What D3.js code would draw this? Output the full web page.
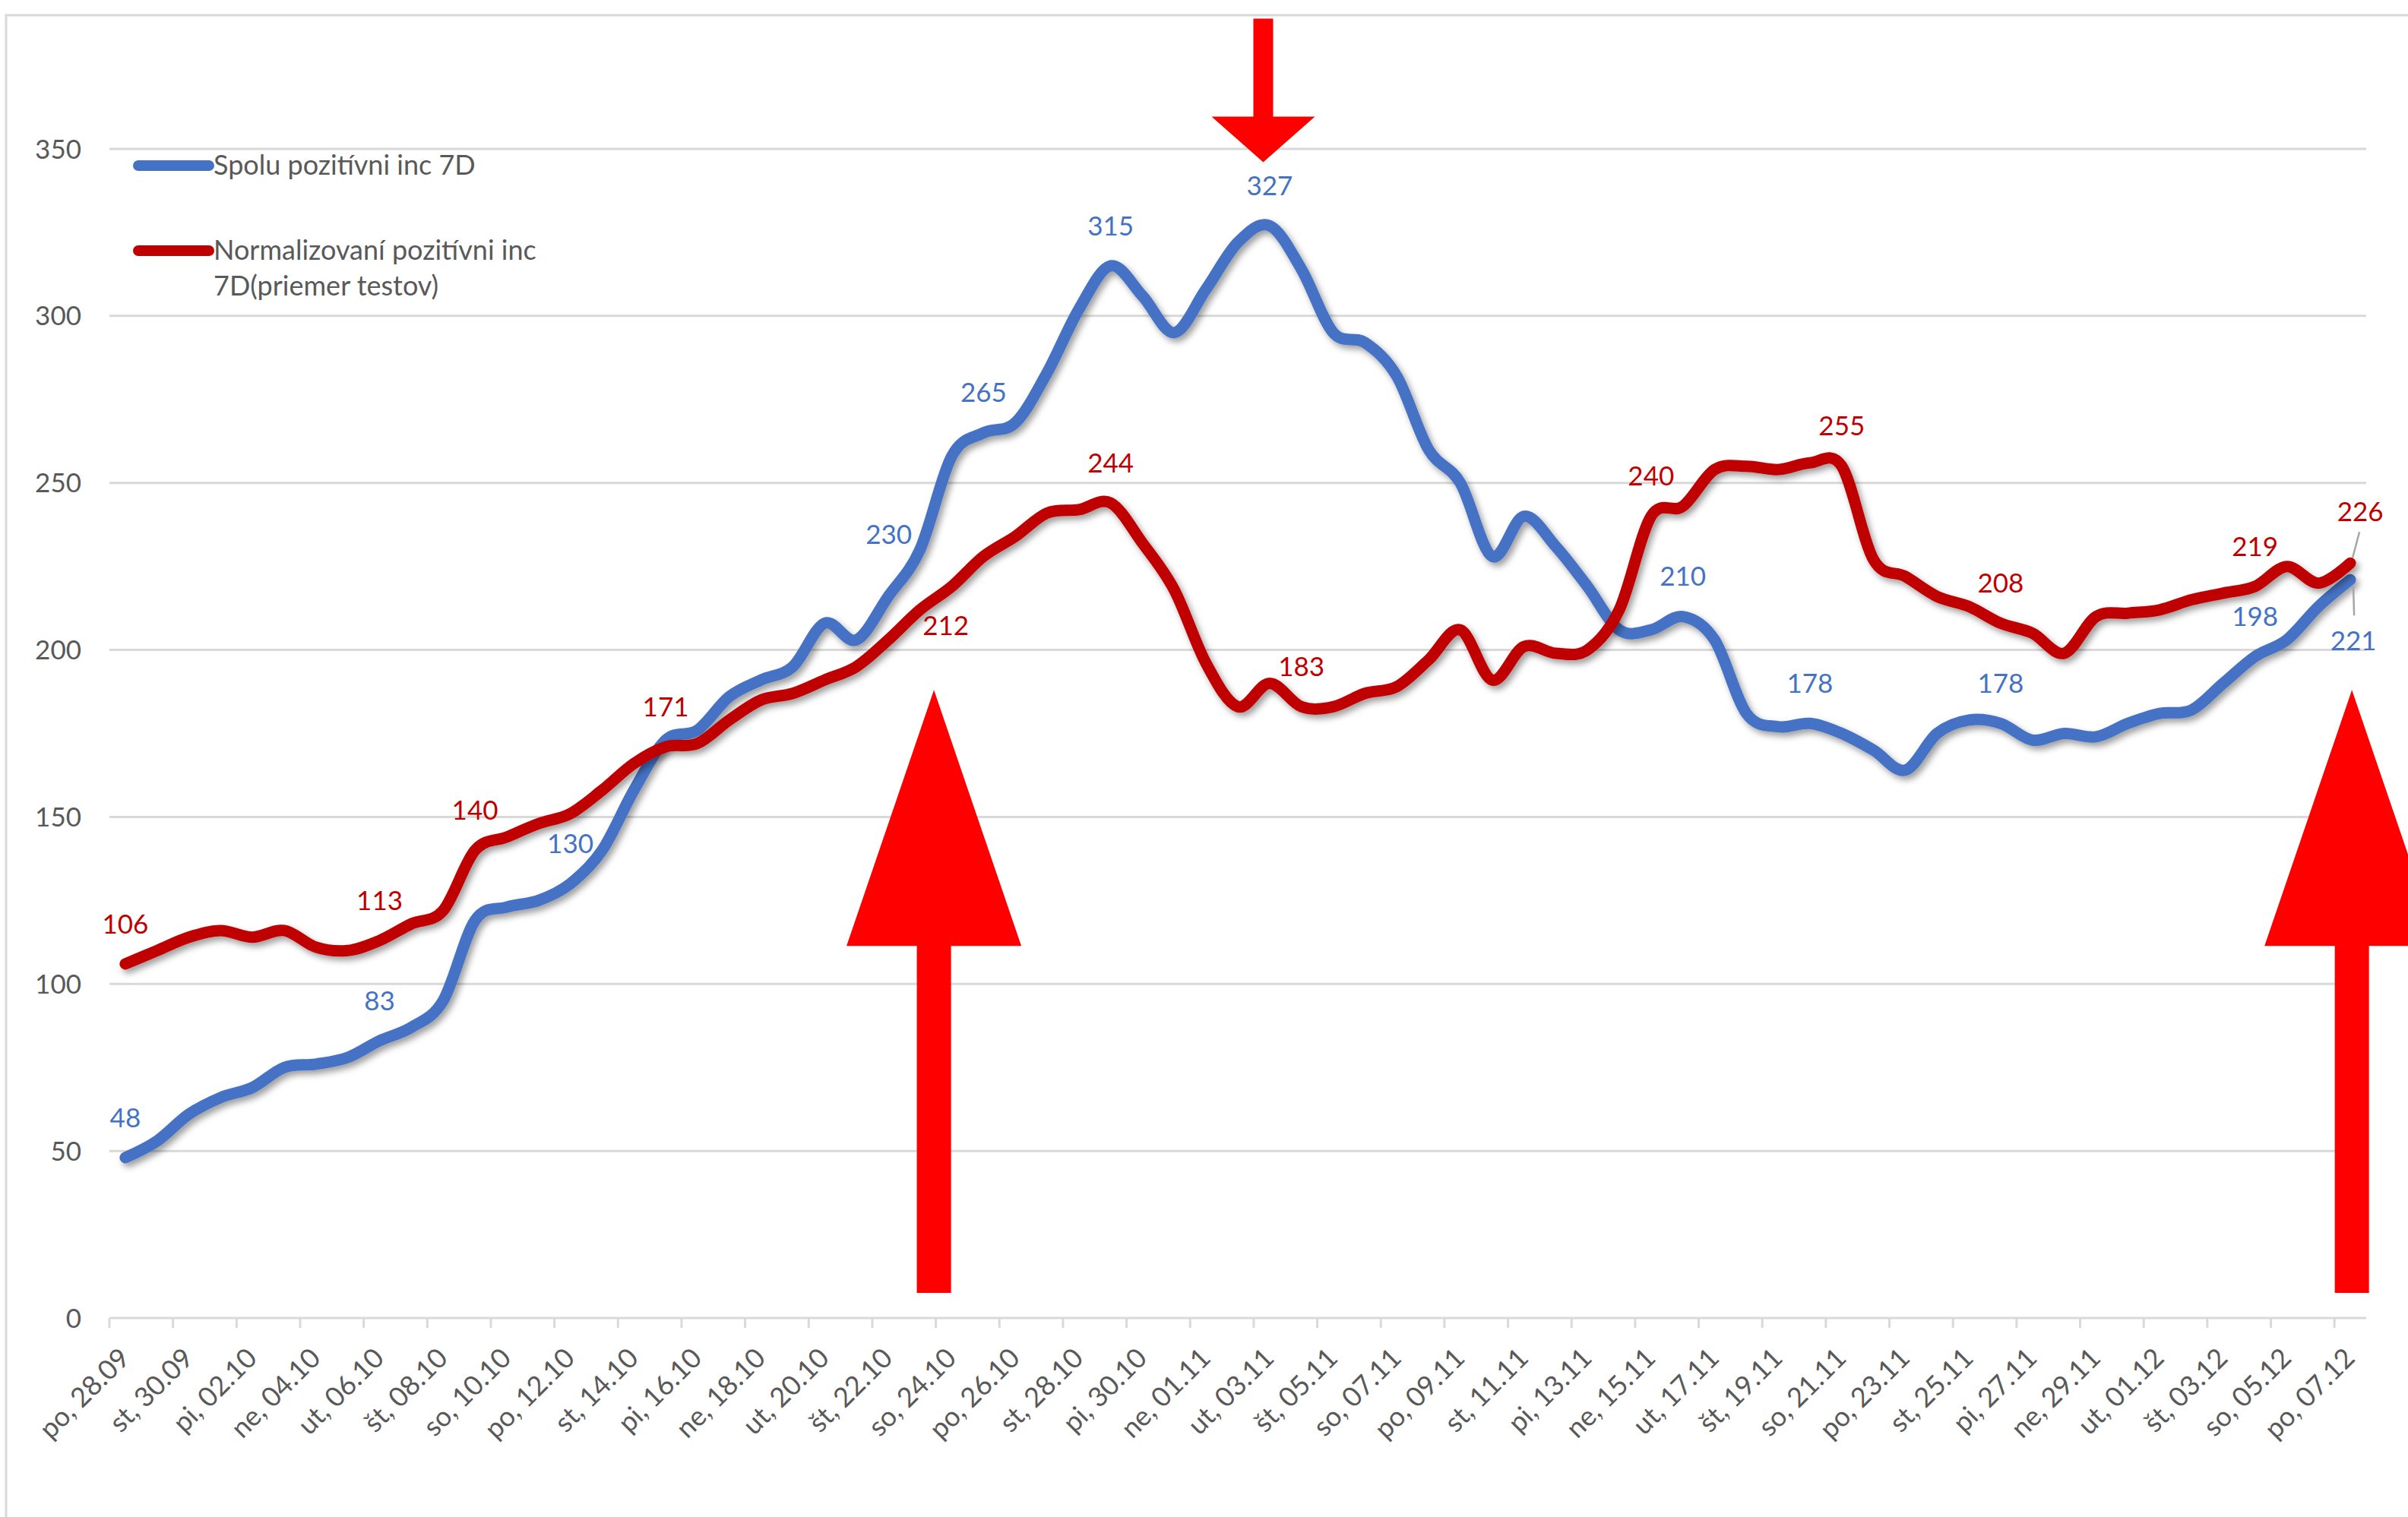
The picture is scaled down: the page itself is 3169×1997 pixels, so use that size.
<!DOCTYPE html>
<html><head><meta charset="utf-8">
<script src="https://cdn.jsdelivr.net/npm/d3@7"></script>
<style>html,body{margin:0;padding:0;background:#fff;}svg{display:block;}</style>
</head><body>
<script>
const categories = ["po, 28.09","ut, 29.09","st, 30.09","št, 01.10","pi, 02.10","so, 03.10","ne, 04.10","po, 05.10","ut, 06.10","st, 07.10","št, 08.10","pi, 09.10","so, 10.10","ne, 11.10","po, 12.10","ut, 13.10","st, 14.10","št, 15.10","pi, 16.10","so, 17.10","ne, 18.10","po, 19.10","ut, 20.10","st, 21.10","št, 22.10","pi, 23.10","so, 24.10","ne, 25.10","po, 26.10","ut, 27.10","st, 28.10","št, 29.10","pi, 30.10","so, 31.10","ne, 01.11","po, 02.11","ut, 03.11","st, 04.11","št, 05.11","pi, 06.11","so, 07.11","ne, 08.11","po, 09.11","ut, 10.11","st, 11.11","št, 12.11","pi, 13.11","so, 14.11","ne, 15.11","po, 16.11","ut, 17.11","st, 18.11","št, 19.11","pi, 20.11","so, 21.11","ne, 22.11","po, 23.11","ut, 24.11","st, 25.11","št, 26.11","pi, 27.11","so, 28.11","ne, 29.11","po, 30.11","ut, 01.12","st, 02.12","št, 03.12","pi, 04.12","so, 05.12","ne, 06.12","po, 07.12"];

const blueName = "Spolu pozitívni inc 7D";
const redName = ["Normalizovaní pozitívni inc", "7D(priemer testov)"];

const blueValues = [48,53,61,66,69,75,76,78,83,87,95,119,123,125,130,140,158,
173,176,186,191,195,208,203,
216,230,258,265,268,283,302,315,306,295,308,322,327,314,295,292,282,260,250,228,240,231,219,
206,206,210,203,181,177,178,175,170,164,175,179,178,173,175,174,178,181,182,190,198,203,213,221];

const redValues = [106,110,114,116,114,116,111,110,113,118,122,140,144,148,151,158,166,
171,172,179,185,187,191,195,
203,212,219,228,234,241,242,244,232,218,196,183,190,183,183,187,189,197,206,191,201,199,200,
212,240,243,254,255,254,256,255,227,222,216,213,208,205,199,210,211,212,215,217,219,225,220,226];

const yTicks = [0,50,100,150,200,250,300,350];

// indices of points carrying a data label
const blueLabelIdx = [0,8,14,25,27,31,36,49,53,59,67,70];
const redLabelIdx  = [0,8,11,17,25,31,37,48,54,59,67,70];

// annotation arrows: [category position, start value, tip value]
const arrowsDown = [[35.8, 389, 346]];
const arrowsUp = [[25.44, 7.5, 188], [70.05, 7.5, 188]];

// ---------------- drawing ----------------
const W = 3169, H = 1997;
const BLUE = "#4472C4", RED = "#C00000", TXT = "#595959", GRID = "#d9d9d9";
const FONT = "Lato, 'Open Sans', sans-serif";

const svg = d3.select("body").append("svg").attr("width", W).attr("height", H)
  .style("font-family", FONT);
svg.append("rect").attr("width", W).attr("height", H).attr("fill", "#fff");

const defs = svg.append("defs");
const f = defs.append("filter").attr("id","sh").attr("x","-5%").attr("y","-5%").attr("width","110%").attr("height","115%");
f.append("feDropShadow").attr("dx",4).attr("dy",5).attr("stdDeviation",4)
  .attr("flood-color","#000").attr("flood-opacity",0.38);

// chart frame
svg.append("rect").attr("x",8).attr("y",20).attr("width",3300).attr("height",2200)
  .attr("fill","none").attr("stroke",GRID).attr("stroke-width",3);

const x = d3.scaleBand().domain(categories).range([144, 3114]).padding(0);
const cx = i => x(categories[i]) + x.bandwidth()/2;
const xPos = p => x.range()[0] + (p + 0.5) * x.step();
const y = d3.scaleLinear().domain([0, 350]).range([1735, 196]);

// gridlines
svg.append("g").selectAll("line").data(yTicks.filter(d => d > 0)).join("line")
  .attr("x1", 144).attr("x2", 3114)
  .attr("y1", d => y(d)).attr("y2", d => y(d))
  .attr("stroke", GRID).attr("stroke-width", 3);

// y labels
svg.append("g").selectAll("text").data(yTicks).join("text")
  .attr("x", 107).attr("y", d => y(d)).attr("dy", "0.36em")
  .attr("text-anchor", "end").attr("fill", TXT).attr("font-size", 35)
  .text(d => d);

// x axis
svg.append("line").attr("x1",144).attr("x2",3114).attr("y1",y(0)).attr("y2",y(0))
  .attr("stroke",GRID).attr("stroke-width",3);
const tickIdx = d3.range(0, categories.length, 2);
svg.append("g").selectAll("line").data(tickIdx).join("line")
  .attr("x1", i => x(categories[i])).attr("x2", i => x(categories[i]))
  .attr("y1", y(0)).attr("y2", y(0) + 13)
  .attr("stroke", GRID).attr("stroke-width", 3);
svg.append("g").selectAll("text").data(tickIdx).join("text")
  .attr("transform", i => `translate(${cx(i) + 8},${y(0) + 55}) rotate(-45)`)
  .attr("text-anchor", "end").attr("fill", TXT).attr("font-size", 36)
  .text(i => categories[i]);

// lines
const line = d3.line().x((d,i) => cx(i)).y(d => y(d)).curve(d3.curveCardinal.tension(0));
svg.append("path").datum(blueValues).attr("d", line).attr("fill","none")
  .attr("stroke",BLUE).attr("stroke-width",15).attr("stroke-linecap","round")
  .attr("stroke-linejoin","round").attr("filter","url(#sh)");
svg.append("path").datum(redValues).attr("d", line).attr("fill","none")
  .attr("stroke",RED).attr("stroke-width",15).attr("stroke-linecap","round")
  .attr("stroke-linejoin","round").attr("filter","url(#sh)");

// data labels
const blueOff = {25: [-41, -20], 70: [4, 80]};
const redOff  = {25: [34, 21], 70: [13, -68]};
function labels(idx, vals, color, off) {
  svg.append("g").selectAll("text").data(idx).join("text")
    .attr("x", i => cx(i) + (off[i] ? off[i][0] : 0))
    .attr("y", i => y(vals[i]) + (off[i] ? off[i][1] : -53))
    .attr("dy", "0.36em").attr("text-anchor", "middle")
    .attr("fill", color).attr("font-size", 35)
    .text(i => vals[i]);
}
labels(blueLabelIdx, blueValues, BLUE, blueOff);
labels(redLabelIdx, redValues, RED, redOff);

// leader lines for last points
const last = categories.length - 1;
svg.append("line").attr("x1", cx(last) + 12).attr("y1", y(redValues[last]) - 41)
  .attr("x2", cx(last) + 3).attr("y2", y(redValues[last]) - 7)
  .attr("stroke", "#a6a6a6").attr("stroke-width", 2.5);
svg.append("line").attr("x1", cx(last) + 4).attr("y1", y(blueValues[last]) + 9)
  .attr("x2", cx(last) + 5).attr("y2", y(blueValues[last]) + 47)
  .attr("stroke", "#a6a6a6").attr("stroke-width", 2.5);

// legend
const lg = svg.append("g");
lg.append("line").attr("x1",182).attr("x2",275).attr("y1",218).attr("y2",218)
  .attr("stroke",BLUE).attr("stroke-width",14).attr("stroke-linecap","round");
lg.append("text").attr("x",281).attr("y",230).attr("fill",TXT).attr("font-size",36).text(blueName);
lg.append("line").attr("x1",182).attr("x2",275).attr("y1",330).attr("y2",330)
  .attr("stroke",RED).attr("stroke-width",14).attr("stroke-linecap","round");
lg.append("text").attr("x",281).attr("y",342).attr("fill",TXT).attr("font-size",36).text(redName[0]);
lg.append("text").attr("x",281).attr("y",389).attr("fill",TXT).attr("font-size",36).text(redName[1]);

// red arrows
const ARW = "#FF0000";
arrowsDown.forEach(([p, v0, v1]) => {
  const xc = xPos(p), yTop = y(v0), yTip = y(v1), headH = 60;
  svg.append("path").attr("fill", ARW).attr("d",
    `M${xc-13},${yTop}H${xc+13}V${yTip-headH}H${xc+68}L${xc},${yTip}L${xc-68},${yTip-headH}H${xc-13}Z`);
});
arrowsUp.forEach(([p, v0, v1]) => {
  const xc = xPos(p), yBot = y(v0), yTip = y(v1), headH = 337;
  svg.append("path").attr("fill", ARW).attr("d",
    `M${xc-22.5},${yBot}H${xc+22.5}V${yTip+headH}H${xc+115}L${xc},${yTip}L${xc-115},${yTip+headH}H${xc-22.5}Z`);
});
</script>
</body></html>
